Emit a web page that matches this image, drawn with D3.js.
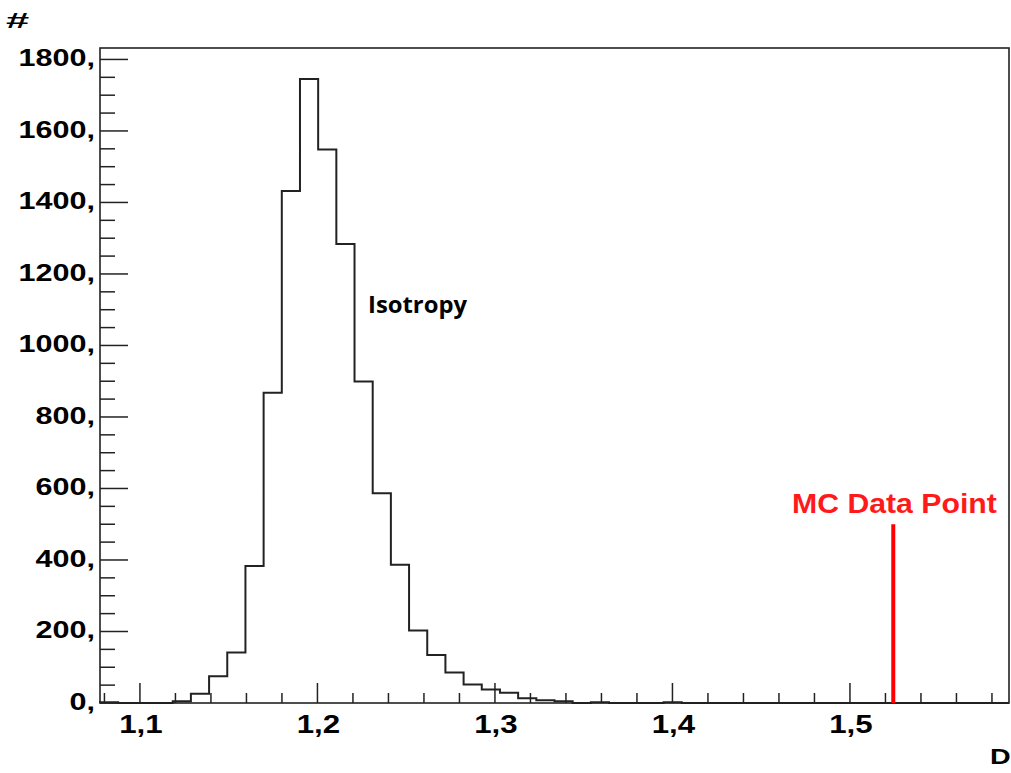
<!DOCTYPE html>
<html>
<head>
<meta charset="utf-8">
<script src="https://cdn.jsdelivr.net/npm/d3@7"></script>
<style>
  body { margin: 0; background: #fff; }
  svg { display: block; }
</style>
</head>
<body>
<svg id="chart" width="1011" height="773"></svg>
<script>
// histogram definition (50 bins over the plotted range)
const binStart = 1.0775;
const binEnd = 1.5896;
const binCounts = [
  2, 0, 0, 0, 5, 26, 75, 141, 383, 868,
  1432, 1745, 1548, 1284, 899, 587, 387, 203, 134, 85,
  52, 38, 29, 13, 8, 5, 0, 2, 0, 0,
  0, 2, 0, 0, 0, 0, 0, 0, 0, 0,
  0, 0, 0, 0, 0, 0, 0, 0, 0, 0
];
const xMajorTicks = [1.1, 1.2, 1.3, 1.4, 1.5];
const xTickLabels = ["1,1", "1,2", "1,3", "1,4", "1,5"];
const yMajorTicks = [0, 200, 400, 600, 800, 1000, 1200, 1400, 1600, 1800];
const yTickLabels = ["0,", "200,", "400,", "600,", "800,", "1000,", "1200,", "1400,", "1600,", "1800,"];
const mcPoint = 1.5244;
const mcHeight = 500;
const yMax = 1832;

const frameL = 100, frameR = 1009, frameT = 48, frameB = 703;

const svg = d3.select("#chart");

const x = d3.scaleLinear().domain([binStart, binEnd]).range([frameL, frameR]);
const y = d3.scaleLinear().domain([0, yMax]).range([frameB, frameT]);

// histogram outline as a step path
const binWidth = (binEnd - binStart) / binCounts.length;
const pts = [[binStart, 0]];
binCounts.forEach((c, i) => {
  pts.push([binStart + i * binWidth, c]);
  pts.push([binStart + (i + 1) * binWidth, c]);
});
pts.push([binEnd, 0]);

svg.append("path")
  .attr("d", d3.line().x(d => x(d[0])).y(d => y(d[1]))(pts))
  .attr("fill", "none")
  .attr("stroke", "#222")
  .attr("stroke-width", 2);

// frame
svg.append("rect")
  .attr("x", frameL).attr("y", frameT)
  .attr("width", frameR - frameL).attr("height", frameB - frameT)
  .attr("fill", "none")
  .attr("stroke", "#222")
  .attr("stroke-width", 1.6);

// x ticks (minor every 0.02)
const xMinor = d3.range(54, 80).map(v => v / 50);
const gx = svg.append("g").attr("stroke", "#222").attr("stroke-width", 1.5);
xMinor.forEach(v => {
  const major = xMajorTicks.some(m => Math.abs(m - v) < 1e-6);
  gx.append("line")
    .attr("x1", x(v)).attr("x2", x(v))
    .attr("y1", frameB).attr("y2", frameB - (major ? 20 : 10));
});

// y ticks (minor every 50)
const yMinor = d3.range(0, 1801, 50);
const gy = svg.append("g").attr("stroke", "#222").attr("stroke-width", 1.5);
yMinor.forEach(v => {
  const major = v % 200 === 0;
  gy.append("line")
    .attr("x1", frameL).attr("x2", frameL + (major ? 28 : 15))
    .attr("y1", y(v)).attr("y2", y(v));
});

function addText(px, py, str, size, anchor, sx, opts = {}) {
  const t = svg.append("text")
    .attr("transform", `translate(${px},${py}) scale(${sx},1)`)
    .attr("text-anchor", anchor)
    .attr("font-family", opts.family || "'Liberation Sans', Arial, sans-serif")
    .attr("font-weight", "bold")
    .attr("font-size", size)
    .attr("fill", opts.fill || "#000")
    .text(str);
  if (opts.len) t.attr("textLength", opts.len).attr("lengthAdjust", "spacingAndGlyphs");
  return t;
}

xMajorTicks.forEach((v, i) => addText(x(v) + 1, 733, xTickLabels[i], 25, "middle", 1.25));
yMajorTicks.forEach((v, i) => addText(95, y(v) + 7, yTickLabels[i], 23.5, "end", 1.3));

// axis titles
addText(6, 28, "#", 22, "start", 1.9);
addText(990, 764, "D", 22, "start", 1.3);

// annotations
addText(368, 313, "Isotropy", 23.5, "start", 1, { family: "'Open Sans', sans-serif", len: 99 });

svg.append("line")
  .attr("x1", x(mcPoint)).attr("x2", x(mcPoint))
  .attr("y1", y(0)).attr("y2", y(mcHeight))
  .attr("stroke", "#ff0000")
  .attr("stroke-width", 4);

addText(792, 513, "MC Data Point", 27, "start", 1.12, { fill: "#ff1a1a" });
</script>
</body>
</html>
